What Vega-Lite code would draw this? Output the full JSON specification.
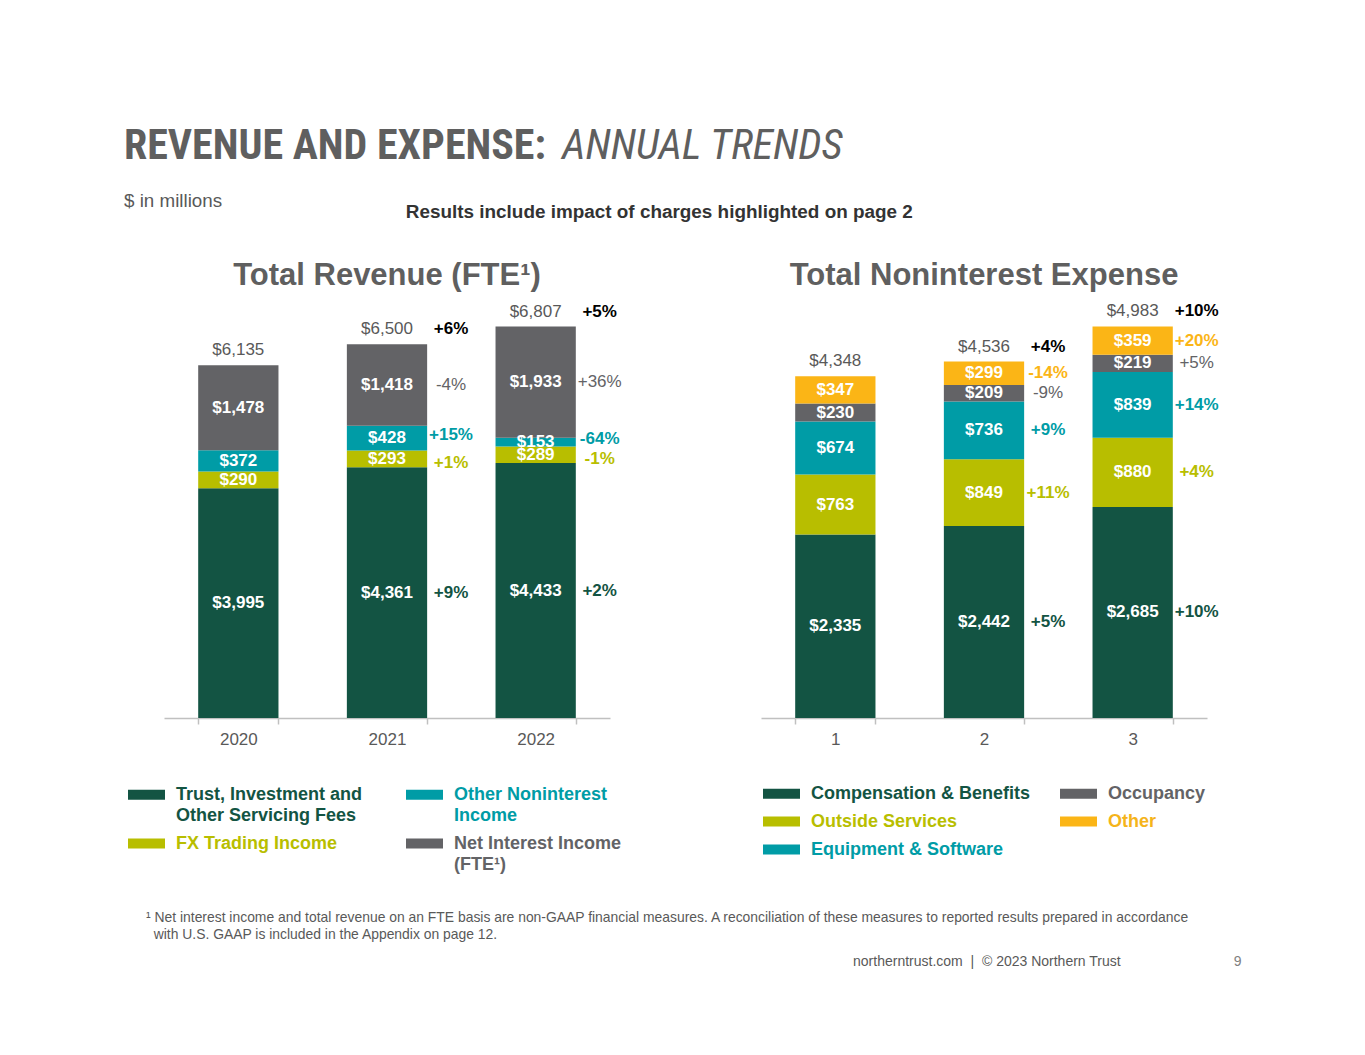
{
  "$schema": "https://vega.github.io/schema/vega-lite/v6.json",
  "background": "white",
  "padding": {"left": 124, "top": 125, "right": 30, "bottom": 30},
  "config": {
    "view": {"stroke": null},
    "font": "Liberation Sans",
    "axisX": {"title": null, "labelAngle": 0, "domainColor": "#c0c0c0", "domainWidth": 1.5, "tickColor": "#c0c0c0", "tickWidth": 1.5, "tickSize": 6, "tickBand": "extent", "labelFont": "Liberation Sans", "labelFontSize": 17, "labelColor": "#595959", "labelPadding": 7, "grid": false},
    "text": {"font": "Liberation Sans", "fontSize": 17},
    "legend": {"orient": "none", "columns": 2, "symbolType": "M-1,-0.27H1V0.27H-1Z", "symbolSize": 1369, "symbolStrokeWidth": 0, "symbolOpacity": 1, "labelFont": "Liberation Sans", "labelFontSize": 18, "labelFontWeight": "bold", "labelLimit": 400, "labelOffset": 11}
  },
  "datasets": {
    "revenue": [
      {"year": "2020", "series": "Trust, Investment and Other Servicing Fees", "order": 1, "value": 3995, "pct": null},
      {"year": "2020", "series": "FX Trading Income", "order": 2, "value": 290, "pct": null},
      {"year": "2020", "series": "Other Noninterest Income", "order": 3, "value": 372, "pct": null},
      {"year": "2020", "series": "Net Interest Income (FTE¹)", "order": 4, "value": 1478, "pct": null},
      {"year": "2021", "series": "Trust, Investment and Other Servicing Fees", "order": 1, "value": 4361, "pct": "+9%"},
      {"year": "2021", "series": "FX Trading Income", "order": 2, "value": 293, "pct": "+1%"},
      {"year": "2021", "series": "Other Noninterest Income", "order": 3, "value": 428, "pct": "+15%"},
      {"year": "2021", "series": "Net Interest Income (FTE¹)", "order": 4, "value": 1418, "pct": "-4%"},
      {"year": "2022", "series": "Trust, Investment and Other Servicing Fees", "order": 1, "value": 4433, "pct": "+2%"},
      {"year": "2022", "series": "FX Trading Income", "order": 2, "value": 289, "pct": "-1%"},
      {"year": "2022", "series": "Other Noninterest Income", "order": 3, "value": 153, "pct": "-64%"},
      {"year": "2022", "series": "Net Interest Income (FTE¹)", "order": 4, "value": 1933, "pct": "+36%"}
    ],
    "revenue_total": [
      {"year": "2020", "total": 6135, "pct": null},
      {"year": "2021", "total": 6500, "pct": "+6%"},
      {"year": "2022", "total": 6807, "pct": "+5%"}
    ],
    "expense": [
      {"period": "1", "category": "Compensation & Benefits", "order": 1, "value": 2335, "pct": null},
      {"period": "1", "category": "Outside Services", "order": 2, "value": 763, "pct": null},
      {"period": "1", "category": "Equipment & Software", "order": 3, "value": 674, "pct": null},
      {"period": "1", "category": "Occupancy", "order": 4, "value": 230, "pct": null},
      {"period": "1", "category": "Other", "order": 5, "value": 347, "pct": null},
      {"period": "2", "category": "Compensation & Benefits", "order": 1, "value": 2442, "pct": "+5%"},
      {"period": "2", "category": "Outside Services", "order": 2, "value": 849, "pct": "+11%"},
      {"period": "2", "category": "Equipment & Software", "order": 3, "value": 736, "pct": "+9%"},
      {"period": "2", "category": "Occupancy", "order": 4, "value": 209, "pct": "-9%"},
      {"period": "2", "category": "Other", "order": 5, "value": 299, "pct": "-14%"},
      {"period": "3", "category": "Compensation & Benefits", "order": 1, "value": 2685, "pct": "+10%"},
      {"period": "3", "category": "Outside Services", "order": 2, "value": 880, "pct": "+4%"},
      {"period": "3", "category": "Equipment & Software", "order": 3, "value": 839, "pct": "+14%"},
      {"period": "3", "category": "Occupancy", "order": 4, "value": 219, "pct": "+5%"},
      {"period": "3", "category": "Other", "order": 5, "value": 359, "pct": "+20%"}
    ],
    "expense_total": [
      {"period": "1", "total": 4348, "pct": null},
      {"period": "2", "total": 4536, "pct": "+4%"},
      {"period": "3", "total": 4983, "pct": "+10%"}
    ]
  },
  "title": {"text": "9", "orient": "bottom", "anchor": "end", "dx": 23, "offset": -14, "font": "Liberation Sans", "fontSize": 14, "fontWeight": "normal", "color": "#7f7f7f"},
  "vconcat": [{
    "title": {"text": "northerntrust.com\u00a0\u00a0|\u00a0\u00a0© 2023 Northern Trust", "orient": "bottom", "anchor": "end", "dx": -98, "offset": 13, "font": "Liberation Sans", "fontSize": 14, "fontWeight": "normal", "color": "#595959"},
    "vconcat": [{
      "title": {"text": "ANNUAL TRENDS", "anchor": "start", "dx": 438, "offset": -43, "font": "'Roboto Condensed', 'DejaVu Sans Condensed', sans-serif", "fontSize": 42, "fontStyle": "italic", "fontWeight": "normal", "color": "#5f5f5f"},
      "vconcat": [{
        "title": {"text": "REVENUE AND EXPENSE:", "anchor": "start", "dx": -4, "offset": -9, "font": "'Roboto Condensed', 'DejaVu Sans Condensed', sans-serif", "fontSize": 42, "fontWeight": "bold", "color": "#5f5f5f", "subtitle": "$ in millions", "subtitleFont": "Liberation Sans", "subtitleFontSize": 18.8, "subtitleColor": "#595959", "subtitlePadding": 24},
        "vconcat": [{
          "title": {"text": ["¹ Net interest income and total revenue on an FTE basis are non-GAAP financial measures. A reconciliation of these measures to reported results prepared in accordance", "\u200b\u00a0\u00a0with U.S. GAAP is included in the Appendix on page 12."], "orient": "bottom", "anchor": "start", "dx": 18, "offset": 37, "font": "Liberation Sans", "fontSize": 13.9, "fontWeight": "normal", "color": "#595959", "lineHeight": 17},
          "vconcat": [{
            "title": {"text": "Results include impact of charges highlighted on page 2", "anchor": "middle", "dx": -14, "offset": 38, "font": "Liberation Sans", "fontSize": 18.9, "fontWeight": "bold", "color": "#333333"},
            "spacing": 139,
            "resolve": {"scale": {"x": "independent", "y": "independent", "color": "independent"}, "legend": {"color": "independent"}},
            "hconcat": [
              {
                "width": 446,
                "height": 420,
                "title": {"text": "Total Revenue (FTE¹)", "frame": "group", "anchor": "middle", "offset": 6, "font": "Liberation Sans", "fontSize": 31, "fontWeight": "bold", "color": "#5f5f5f"},
                "encoding": {"x": {"field": "year", "type": "nominal", "scale": {"paddingInner": 0.46, "paddingOuter": 0.23}}},
                "layer": [
                  {
                    "data": {"name": "revenue"},
                    "transform": [{"stack": "value", "groupby": ["year"], "sort": [{"field": "order"}], "as": ["y0", "y1"]}],
                    "mark": {"type": "bar"},
                    "encoding": {
                      "y": {"field": "y0", "type": "quantitative", "scale": {"domain": [0, 7304], "nice": false}, "axis": null},
                      "y2": {"field": "y1"},
                      "color": {
                        "field": "series", "type": "nominal",
                        "scale": {"domain": ["Trust, Investment and Other Servicing Fees", "FX Trading Income", "Other Noninterest Income", "Net Interest Income (FTE¹)"], "range": ["#135443", "#b8be00", "#009ca6", "#636366"]},
                        "legend": {
                          "title": null, "legendX": -36, "legendY": 478, "columnPadding": 43, "rowPadding": -4,
                          "labelExpr": "datum.value == 'Trust, Investment and Other Servicing Fees' ? ['Trust, Investment and', 'Other Servicing Fees'] : datum.value == 'Other Noninterest Income' ? ['Other Noninterest', 'Income'] : datum.value == 'Net Interest Income (FTE¹)' ? ['Net Interest Income', '(FTE¹)'] : datum.label",
                          "encode": {"labels": {"update": {"lineHeight": {"value": 21}, "fill": {"signal": "datum.value == 'FX Trading Income' ? '#b8be00' : datum.value == 'Other Noninterest Income' ? '#009ca6' : datum.value == 'Net Interest Income (FTE¹)' ? '#636366' : '#135443'"}}}}
                        }
                      }
                    }
                  },
                  {
                    "data": {"name": "revenue"},
                    "transform": [{"stack": "value", "groupby": ["year"], "sort": [{"field": "order"}], "as": ["y0", "y1"]}, {"fold": ["y0", "y1"], "as": ["edge", "pos"]}],
                    "mark": {"type": "text", "color": "white", "fontWeight": "bold", "fontSize": 17, "baseline": "middle"},
                    "encoding": {
                      "y": {"aggregate": "mean", "field": "pos", "type": "quantitative", "scale": {"domain": [0, 7304], "nice": false}, "axis": null},
                      "detail": {"field": "series"},
                      "text": {"field": "value", "type": "quantitative", "format": "$,.0f"}
                    }
                  },
                  {
                    "data": {"name": "revenue"},
                    "transform": [{"stack": "value", "groupby": ["year"], "sort": [{"field": "order"}], "as": ["y0", "y1"]}, {"filter": "datum.pct != null"}, {"fold": ["y0", "y1"], "as": ["edge", "pos"]}],
                    "mark": {
                      "type": "text", "fontSize": 17, "baseline": "middle", "dx": 64,
                      "fontWeight": {"expr": "datum.series == 'Net Interest Income (FTE¹)' ? 'normal' : 'bold'"},
                      "dy": {"expr": "datum.series == 'FX Trading Income' ? 4 : datum.series == 'Other Noninterest Income' ? -3 : 0"}
                    },
                    "encoding": {
                      "y": {"aggregate": "mean", "field": "pos", "type": "quantitative", "scale": {"domain": [0, 7304], "nice": false}, "axis": null},
                      "color": {"field": "series", "type": "nominal"},
                      "text": {"field": "pct", "type": "nominal"}
                    }
                  },
                  {
                    "data": {"name": "revenue_total"},
                    "mark": {"type": "text", "color": "#595959", "fontSize": 17, "baseline": "alphabetic", "dy": -10},
                    "encoding": {
                      "y": {"field": "total", "type": "quantitative", "scale": {"domain": [0, 7304], "nice": false}, "axis": null},
                      "text": {"field": "total", "type": "quantitative", "format": "$,.0f"}
                    }
                  },
                  {
                    "data": {"name": "revenue_total"},
                    "transform": [{"filter": "datum.pct != null"}],
                    "mark": {"type": "text", "color": "#000000", "fontWeight": "bold", "fontSize": 17, "baseline": "alphabetic", "dy": -10, "dx": 64},
                    "encoding": {
                      "y": {"field": "total", "type": "quantitative", "scale": {"domain": [0, 7304], "nice": false}, "axis": null},
                      "text": {"field": "pct", "type": "nominal"}
                    }
                  }
                ]
              },
              {
                "width": 446,
                "height": 420,
                "title": {"text": "Total Noninterest Expense", "frame": "group", "anchor": "middle", "offset": 6, "font": "Liberation Sans", "fontSize": 31, "fontWeight": "bold", "color": "#5f5f5f"},
                "encoding": {"x": {"field": "period", "type": "nominal", "scale": {"paddingInner": 0.46, "paddingOuter": 0.23}}},
                "layer": [
                  {
                    "data": {"name": "expense"},
                    "transform": [{"stack": "value", "groupby": ["period"], "sort": [{"field": "order"}], "as": ["y0", "y1"]}],
                    "mark": {"type": "bar"},
                    "encoding": {
                      "y": {"field": "y0", "type": "quantitative", "scale": {"domain": [0, 5344], "nice": false}, "axis": null},
                      "y2": {"field": "y1"},
                      "color": {
                        "field": "category", "type": "nominal",
                        "scale": {"domain": ["Compensation & Benefits", "Outside Services", "Equipment & Software", "Occupancy", "Other"], "range": ["#135443", "#b8be00", "#009ca6", "#636366", "#fbb516"]},
                        "legend": {
                          "title": null, "legendX": 2, "legendY": 477, "columnPadding": 29, "rowPadding": -5,
                          "encode": {"labels": {"update": {"fill": {"signal": "datum.value == 'Outside Services' ? '#b8be00' : datum.value == 'Equipment & Software' ? '#009ca6' : datum.value == 'Occupancy' ? '#636366' : datum.value == 'Other' ? '#f5b41a' : '#135443'"}}}}
                        }
                      }
                    }
                  },
                  {
                    "data": {"name": "expense"},
                    "transform": [{"stack": "value", "groupby": ["period"], "sort": [{"field": "order"}], "as": ["y0", "y1"]}, {"fold": ["y0", "y1"], "as": ["edge", "pos"]}],
                    "mark": {"type": "text", "color": "white", "fontWeight": "bold", "fontSize": 17, "baseline": "middle"},
                    "encoding": {
                      "y": {"aggregate": "mean", "field": "pos", "type": "quantitative", "scale": {"domain": [0, 5344], "nice": false}, "axis": null},
                      "detail": {"field": "category"},
                      "text": {"field": "value", "type": "quantitative", "format": "$,.0f"}
                    }
                  },
                  {
                    "data": {"name": "expense"},
                    "transform": [{"stack": "value", "groupby": ["period"], "sort": [{"field": "order"}], "as": ["y0", "y1"]}, {"filter": "datum.pct != null"}, {"fold": ["y0", "y1"], "as": ["edge", "pos"]}],
                    "mark": {
                      "type": "text", "fontSize": 17, "baseline": "middle", "dx": 64,
                      "fontWeight": {"expr": "datum.category == 'Occupancy' ? 'normal' : 'bold'"}
                    },
                    "encoding": {
                      "y": {"aggregate": "mean", "field": "pos", "type": "quantitative", "scale": {"domain": [0, 5344], "nice": false}, "axis": null},
                      "color": {"field": "category", "type": "nominal"},
                      "text": {"field": "pct", "type": "nominal"}
                    }
                  },
                  {
                    "data": {"name": "expense_total"},
                    "mark": {"type": "text", "color": "#595959", "fontSize": 17, "baseline": "alphabetic", "dy": -10},
                    "encoding": {
                      "y": {"field": "total", "type": "quantitative", "scale": {"domain": [0, 5344], "nice": false}, "axis": null},
                      "text": {"field": "total", "type": "quantitative", "format": "$,.0f"}
                    }
                  },
                  {
                    "data": {"name": "expense_total"},
                    "transform": [{"filter": "datum.pct != null"}],
                    "mark": {"type": "text", "color": "#000000", "fontWeight": "bold", "fontSize": 17, "baseline": "alphabetic", "dy": -10, "dx": 64},
                    "encoding": {
                      "y": {"field": "total", "type": "quantitative", "scale": {"domain": [0, 5344], "nice": false}, "axis": null},
                      "text": {"field": "pct", "type": "nominal"}
                    }
                  }
                ]
              }
            ]
          }]
        }]
      }]
    }]
  }]
}
